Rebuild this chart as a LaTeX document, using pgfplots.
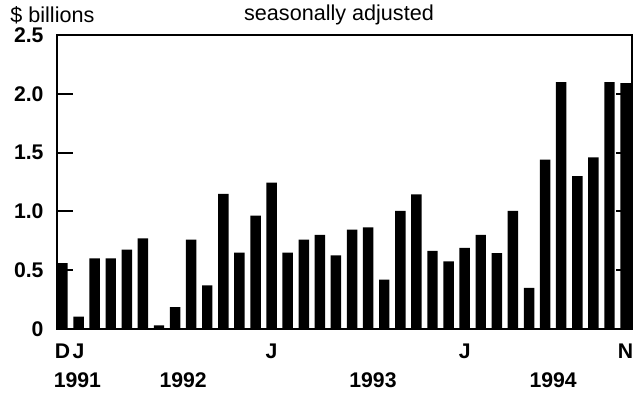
\documentclass[border=0pt]{standalone}
\usepackage{fontspec}
\setmainfont{Liberation Sans}
\usepackage{pgfplots}
\pgfplotsset{compat=1.18}
\begin{document}
\begin{tikzpicture}
\useasboundingbox (-28.5pt,-36.5pt) rectangle (288.5pt,164.5pt);
\begin{axis}[
  at={(0,0)}, anchor=south west, scale only axis,
  width=287.5pt, height=147pt,
  xmin=-0.34, xmax=35.4, ymin=0, ymax=2.5,
  clip=false,
  axis line style={line width=1pt},
  ytick={0,0.5,1,1.5,2,2.5},
  yticklabels={0,0.5,1.0,1.5,2.0,2.5},
  ytick pos=both, yticklabel pos=left,
  tick align=inside, major tick length=8pt,
  y tick style={line width=1pt, black},
  xtick={0,1,13,25,35}, xticklabels={D,J,J,J,N},
  x tick style={draw=none},
  tick label style={font=\fontsize{10.6}{12}\selectfont\bfseries},
  yticklabel style={xshift=-3.2pt},
  xticklabel style={yshift=-4pt},
]
\addplot[ybar, bar width=0.65, fill=black, draw=none] coordinates {
(0,0.56) (1,0.105) (2,0.60) (3,0.60) (4,0.675) (5,0.77) (6,0.03) (7,0.185)
(8,0.76) (9,0.37) (10,1.15) (11,0.65) (12,0.965) (13,1.245) (14,0.65) (15,0.76)
(16,0.80) (17,0.625) (18,0.845) (19,0.865) (20,0.42) (21,1.005) (22,1.145) (23,0.665)
(24,0.575) (25,0.69) (26,0.80) (27,0.645) (28,1.005) (29,0.35) (30,1.44) (31,2.10)
(32,1.30) (33,1.46) (34,2.10) (35,2.09)
};
\node[font=\fontsize{10.6}{12}\selectfont\bfseries, yshift=-25.5pt] at (axis cs:0.93,0) {1991};
\node[font=\fontsize{10.6}{12}\selectfont\bfseries, yshift=-25.5pt] at (axis cs:7.5,0) {1992};
\node[font=\fontsize{10.6}{12}\selectfont\bfseries, yshift=-25.5pt] at (axis cs:19.3,0) {1993};
\node[font=\fontsize{10.6}{12}\selectfont\bfseries, yshift=-25.5pt] at (axis cs:30.5,0) {1994};
\end{axis}
\node[anchor=west, inner sep=0pt, font=\fontsize{10.8}{12}\selectfont] at (-23.5pt,157pt) {\$ billions};
\node[inner sep=0pt, font=\fontsize{10.8}{12}\selectfont] at (141pt,157pt) {seasonally adjusted};
\end{tikzpicture}
\end{document}
